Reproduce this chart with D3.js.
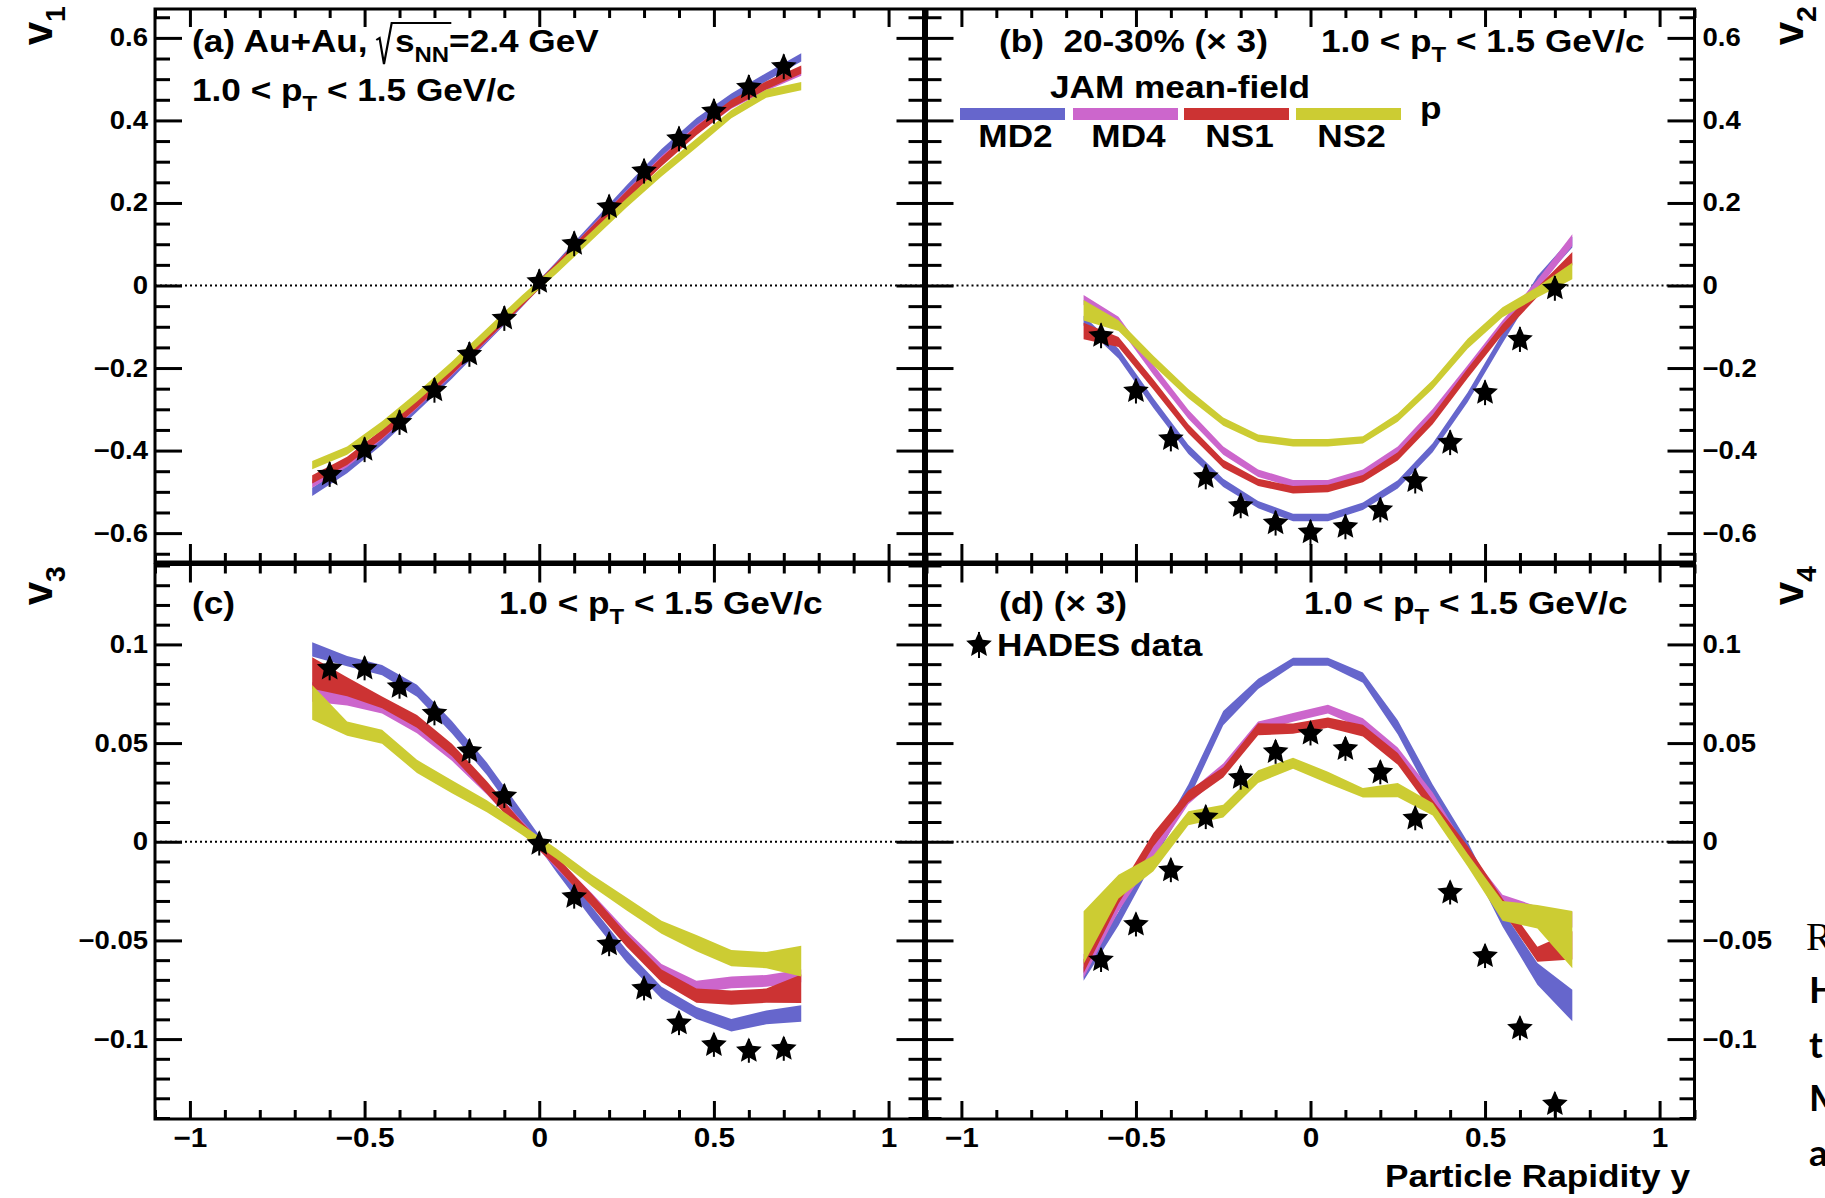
<!DOCTYPE html>
<html>
<head>
<meta charset="utf-8">
<script src="https://cdn.jsdelivr.net/npm/d3@7"></script>
<style>
  html, body { margin: 0; padding: 0; background: #fff; }
  svg { display: block; }
  text { white-space: pre; }
</style>
</head>
<body>
<svg id="chart" width="1825" height="1198"></svg>
<script>
// ---------- data ----------
const rapidityData  = [-0.6, -0.5, -0.4, -0.3, -0.2, -0.1, 0, 0.1, 0.2, 0.3, 0.4, 0.5, 0.6, 0.7];
const rapidityModel = [-0.65, -0.55, -0.45, -0.35, -0.25, -0.15, -0.05, 0.05, 0.15, 0.25, 0.35, 0.45, 0.55, 0.65, 0.75];

const modelNames  = ['MD2', 'MD4', 'NS1', 'NS2'];
const modelColors = ['#6666cc', '#cc66cc', '#cc3333', '#cccc33'];

// HADES data, 20-30%, 1.0 < pT < 1.5 GeV/c (v2, v4 scaled by 3)
const hadesV1 = [-0.458, -0.398, -0.332, -0.254, -0.167, -0.080, 0.009, 0.101, 0.190, 0.277, 0.355, 0.422, 0.480, 0.530];
const hadesV2 = [-0.122, -0.256, -0.372, -0.464, -0.534, -0.576, -0.598, -0.585, -0.544, -0.474, -0.381, -0.260, -0.131, -0.007];
const hadesV3 = [0.0878, 0.0878, 0.0785, 0.0650, 0.0459, 0.0231, -0.0010, -0.0279, -0.0520, -0.0744, -0.0920, -0.1030, -0.1060, -0.1050];
const hadesV4 = [-0.0600, -0.0420, -0.0145, 0.0124, 0.0324, 0.0455, 0.0548, 0.0470, 0.0351, 0.0118, -0.0258, -0.0580, -0.0946, -0.1330];
const hadesV12Err = [0.03, 0.03, 0.03, 0.03, 0.03, 0.03, 0.03, 0.03, 0.03, 0.03, 0.03, 0.03, 0.03, 0.03];
const hadesV34Err = [0.006, 0.006, 0.006, 0.006, 0.006, 0.006, 0.006, 0.006, 0.006, 0.006, 0.006, 0.006, 0.006, 0.006];

// JAM mean-field, v1 (centre, half-width)
const md2V1 = [-0.500, -0.445, -0.375, -0.295, -0.215, -0.128, -0.042, 0.048, 0.140, 0.232, 0.320, 0.395, 0.455, 0.505, 0.553];
const md4V1 = [-0.480, -0.430, -0.362, -0.287, -0.207, -0.124, -0.040, 0.045, 0.133, 0.220, 0.303, 0.378, 0.438, 0.482, 0.518];
const ns1V1 = [-0.470, -0.425, -0.360, -0.285, -0.205, -0.122, -0.040, 0.045, 0.132, 0.218, 0.300, 0.375, 0.440, 0.485, 0.523];
const ns2V1 = [-0.435, -0.400, -0.340, -0.270, -0.195, -0.115, -0.035, 0.040, 0.120, 0.200, 0.275, 0.345, 0.415, 0.465, 0.483];
const v1Width = [0.010, 0.010, 0.011, 0.011, 0.011, 0.011, 0.011, 0.011, 0.011, 0.011, 0.011, 0.011, 0.010, 0.010, 0.010];

// v2 (x3)
const md2V2 = [-0.085, -0.165, -0.285, -0.397, -0.478, -0.531, -0.562, -0.562, -0.535, -0.482, -0.393, -0.271, -0.128, 0.011, 0.105];
const md4V2 = [-0.035, -0.088, -0.204, -0.312, -0.400, -0.455, -0.480, -0.480, -0.455, -0.400, -0.310, -0.205, -0.097, 0.002, 0.110];
const ns1V2 = [-0.110, -0.137, -0.240, -0.347, -0.432, -0.477, -0.495, -0.492, -0.468, -0.414, -0.325, -0.213, -0.106, -0.016, 0.065];
const ns2V2 = [-0.060, -0.097, -0.182, -0.262, -0.330, -0.370, -0.381, -0.381, -0.374, -0.320, -0.240, -0.141, -0.065, -0.016, 0.035];
const md2V2w = [0.012, 0.012, 0.012, 0.011, 0.010, 0.009, 0.009, 0.009, 0.009, 0.010, 0.011, 0.012, 0.012, 0.012, 0.013];
const md4V2w = [0.012, 0.012, 0.012, 0.011, 0.010, 0.009, 0.009, 0.009, 0.009, 0.010, 0.011, 0.012, 0.012, 0.012, 0.014];
const ns1V2w = [0.020, 0.012, 0.012, 0.011, 0.010, 0.009, 0.009, 0.009, 0.009, 0.010, 0.011, 0.012, 0.012, 0.012, 0.016];
const ns2V2w = [0.025, 0.013, 0.012, 0.011, 0.010, 0.009, 0.009, 0.009, 0.009, 0.010, 0.011, 0.012, 0.012, 0.013, 0.020];

// v3
const md2V3 = [0.0975, 0.0915, 0.0870, 0.0765, 0.0580, 0.0370, 0.0124, -0.0124, -0.0360, -0.0580, -0.0765, -0.0868, -0.0930, -0.0890, -0.0870];
const md4V3 = [0.0760, 0.0720, 0.0680, 0.0580, 0.0440, 0.0270, 0.0080, -0.0110, -0.0290, -0.0480, -0.0650, -0.0735, -0.0713, -0.0705, -0.0680];
const ns1V3 = [0.0855, 0.0785, 0.0706, 0.0610, 0.0465, 0.0275, 0.0072, -0.0103, -0.0295, -0.0500, -0.0680, -0.0780, -0.0790, -0.0780, -0.0745];
const ns2V3 = [0.0706, 0.0573, 0.0532, 0.0382, 0.0279, 0.0180, 0.0062, -0.0062, -0.0196, -0.0315, -0.0433, -0.0514, -0.0590, -0.0600, -0.0605];
const md2V3w = [0.0036, 0.0026, 0.0026, 0.0030, 0.0032, 0.0032, 0.0032, 0.0032, 0.0032, 0.0032, 0.0030, 0.0030, 0.0032, 0.0035, 0.0042];
const md4V3w = [0.0050, 0.0030, 0.0030, 0.0030, 0.0030, 0.0030, 0.0028, 0.0028, 0.0030, 0.0030, 0.0030, 0.0030, 0.0030, 0.0030, 0.0032];
const ns1V3w = [0.0080, 0.0048, 0.0030, 0.0032, 0.0032, 0.0032, 0.0028, 0.0028, 0.0032, 0.0032, 0.0032, 0.0036, 0.0036, 0.0036, 0.0072];
const ns2V3w = [0.0088, 0.0036, 0.0036, 0.0033, 0.0033, 0.0030, 0.0026, 0.0026, 0.0030, 0.0033, 0.0033, 0.0041, 0.0041, 0.0041, 0.0078];

// v4 (x3)
const md2V4 = [-0.0670, -0.0390, -0.0060, 0.0250, 0.0626, 0.0800, 0.0912, 0.0912, 0.0832, 0.0580, 0.0250, -0.0040, -0.0390, -0.0670, -0.0830];
const md4V4 = [-0.0630, -0.0320, -0.0050, 0.0220, 0.0370, 0.0585, 0.0630, 0.0672, 0.0600, 0.0448, 0.0217, -0.0072, -0.0300, -0.0360, -0.0395];
const ns1V4 = [-0.0630, -0.0280, 0.0010, 0.0230, 0.0351, 0.0570, 0.0573, 0.0604, 0.0563, 0.0420, 0.0180, -0.0052, -0.0320, -0.0570, -0.0525];
const ns2V4 = [-0.0486, -0.0227, -0.0110, 0.0119, 0.0155, 0.0330, 0.0398, 0.0325, 0.0248, 0.0262, 0.0165, -0.0093, -0.0350, -0.0380, -0.0496];
const md2V4w = [0.0035, 0.0035, 0.0038, 0.0040, 0.0036, 0.0026, 0.0020, 0.0020, 0.0026, 0.0036, 0.0040, 0.0040, 0.0040, 0.0055, 0.0080];
const md4V4w = [0.0060, 0.0034, 0.0030, 0.0030, 0.0026, 0.0024, 0.0022, 0.0022, 0.0026, 0.0030, 0.0032, 0.0030, 0.0032, 0.0032, 0.0040];
const ns1V4w = [0.0035, 0.0034, 0.0034, 0.0030, 0.0026, 0.0030, 0.0026, 0.0026, 0.0030, 0.0030, 0.0030, 0.0032, 0.0032, 0.0038, 0.0072];
const ns2V4w = [0.0134, 0.0060, 0.0040, 0.0036, 0.0032, 0.0032, 0.0028, 0.0030, 0.0024, 0.0036, 0.0032, 0.0032, 0.0050, 0.0060, 0.0145];

// axis ticks and labels
const xTickValues = [-1, -0.5, 0, 0.5, 1];
const xTickLabels = ['\u22121', '\u22120.5', '0', '0.5', '1'];
const v12TickValues = [0.6, 0.4, 0.2, 0, -0.2, -0.4, -0.6];
const v12TickLabels = ['0.6', '0.4', '0.2', '0', '\u22120.2', '\u22120.4', '\u22120.6'];
const v34TickValues = [0.1, 0.05, 0, -0.05, -0.1];
const v34TickLabels = ['0.1', '0.05', '0', '\u22120.05', '\u22120.1'];

// ---------- drawing ----------
const W = 1825, H = 1198;
const FONT = "'Liberation Sans', Arial, Helvetica, sans-serif";
const SX = 1.1; // glyphs are drawn slightly wide

const svg = d3.select('#chart');
svg.append('rect').attr('width', W).attr('height', H).attr('fill', '#fff');

function stretchText(sel) {
  sel.each(function () {
    const t = d3.select(this);
    const tx = +t.attr('x') || 0, ty = +t.attr('y') || 0;
    t.attr('transform', `translate(${tx},${ty}) scale(${SX},1) translate(${-tx},${-ty})`);
  });
}

// text with sub/superscript parts; returns {g, text}
function richText(parent, x, y, parts, size, opts = {}) {
  const g = parent.append('g')
    .attr('transform', `translate(${x},${y})` + (opts.rotate ? ` rotate(${opts.rotate})` : '') + ` scale(${opts.sx || SX},1)`);
  const t = g.append('text')
    .attr('font-family', opts.family || FONT)
    .attr('font-weight', opts.weight || 'bold')
    .attr('font-size', size)
    .attr('text-anchor', opts.anchor || 'start')
    .attr('fill', '#000');
  let shift = 0;
  parts.forEach(p => {
    const s = typeof p === 'string' ? { t: p } : p;
    const target = s.sub ? size * 0.32 : s.sup ? -size * 0.4 : 0;
    const ts = t.append('tspan').text(s.t).attr('dy', target - shift);
    if (s.dx) ts.attr('dx', s.dx);
    if (s.sub || s.sup) ts.attr('font-size', size * (s.scale || 0.68));
    shift = target;
  });
  return { g, t };
}

function starPath(R, ratio) {
  const r = R * ratio;
  let p = '';
  for (let i = 0; i < 10; i++) {
    const a = -Math.PI / 2 + i * Math.PI / 5;
    const rr = i % 2 ? r : R;
    p += (i ? 'L' : 'M') + (rr * Math.cos(a)).toFixed(2) + ',' + (rr * Math.sin(a)).toFixed(2);
  }
  return p + 'Z';
}
const STAR = starPath(13.5, 0.47);

const xMinor = d3.range(-11, 12).filter(i => i % 5 !== 0).map(i => i / 10);
const v12Minor = d3.range(-13, 14).filter(i => i % 4 !== 0).map(i => i * 0.05);
const v34Minor = d3.range(-14, 15).filter(i => i % 5 !== 0).map(i => i * 0.01);

const panels = [
  { xr: [155, 923.5], yr: [562, 9], ydom: [-0.67, 0.67], yt: v12TickValues, yl: v12TickLabels, ym: v12Minor, side: 'left', xLab: false,
    data: hadesV1, err: hadesV12Err,
    models: [[md2V1, v1Width], [md4V1, v1Width], [ns1V1, v1Width], [ns2V1, v1Width]] },
  { xr: [926.5, 1694.5], yr: [562, 9], ydom: [-0.67, 0.67], yt: v12TickValues, yl: v12TickLabels, ym: v12Minor, side: 'right', xLab: false,
    data: hadesV2, err: hadesV12Err,
    models: [[md2V2, md2V2w], [md4V2, md4V2w], [ns1V2, ns1V2w], [ns2V2, ns2V2w]] },
  { xr: [155, 923.5], yr: [1119, 564.5], ydom: [-0.1405, 0.1405], yt: v34TickValues, yl: v34TickLabels, ym: v34Minor, side: 'left', xLab: true,
    data: hadesV3, err: hadesV34Err,
    models: [[md2V3, md2V3w], [md4V3, md4V3w], [ns1V3, ns1V3w], [ns2V3, ns2V3w]] },
  { xr: [926.5, 1694.5], yr: [1119, 564.5], ydom: [-0.1405, 0.1405], yt: v34TickValues, yl: v34TickLabels, ym: v34Minor, side: 'right', xLab: true,
    data: hadesV4, err: hadesV34Err,
    models: [[md2V4, md2V4w], [md4V4, md4V4w], [ns1V4, ns1V4w], [ns2V4, ns2V4w]] }
];

function styleAxis(g, labelSize) {
  g.select('.domain').remove();
  g.selectAll('.tick line').attr('stroke', '#000').attr('stroke-width', 3);
  g.selectAll('.tick text').attr('font-family', FONT).attr('font-weight', 'bold')
    .attr('font-size', labelSize).attr('fill', '#000');
  g.attr('font-family', null).attr('font-size', null);
  stretchText(g.selectAll('.tick text'));
}

panels.forEach(p => {
  const x = d3.scaleLinear().domain([-1.1, 1.1]).range(p.xr);
  const y = d3.scaleLinear().domain(p.ydom).range(p.yr);
  const g = svg.append('g');

  // zero line
  g.append('line').attr('x1', p.xr[0]).attr('x2', p.xr[1]).attr('y1', y(0)).attr('y2', y(0))
    .attr('stroke', '#000').attr('stroke-width', 2).attr('stroke-dasharray', '2,3');

  // model bands
  p.models.forEach((m, k) => {
    const pts = rapidityModel.map((r, i) => ({ r, c: m[0][i], w: m[1][i] }));
    g.append('path').datum(pts)
      .attr('fill', modelColors[k])
      .attr('d', d3.area().x(d => x(d.r)).y0(d => y(d.c - d.w)).y1(d => y(d.c + d.w)));
  });

  // data
  const pts = rapidityData.map((r, i) => ({ r, v: p.data[i], e: p.err[i] }));
  g.selectAll('line.err').data(pts).join('line').attr('class', 'err')
    .attr('x1', d => x(d.r)).attr('x2', d => x(d.r))
    .attr('y1', d => y(d.v - d.e)).attr('y2', d => y(d.v + d.e))
    .attr('stroke', '#000').attr('stroke-width', 2);
  g.selectAll('path.star').data(pts).join('path').attr('class', 'star')
    .attr('transform', d => `translate(${x(d.r)},${y(d.v)})`)
    .attr('d', STAR).attr('fill', '#000');

  // axes on all four sides, ticks pointing inwards
  const bottom = g.append('g').attr('transform', `translate(0,${p.yr[0]})`)
    .call(d3.axisBottom(x).tickValues(xTickValues).tickSizeInner(-18).tickSizeOuter(0).tickPadding(9)
      .tickFormat((d, i) => p.xLab ? xTickLabels[i] : ''));
  styleAxis(bottom, 27);
  styleAxis(g.append('g').attr('transform', `translate(0,${p.yr[0]})`)
    .call(d3.axisBottom(x).tickValues(xMinor).tickSizeInner(-9).tickSizeOuter(0).tickFormat('')), 27);
  styleAxis(g.append('g').attr('transform', `translate(0,${p.yr[1]})`)
    .call(d3.axisTop(x).tickValues(xTickValues).tickSizeInner(-18).tickSizeOuter(0).tickFormat('')), 27);
  styleAxis(g.append('g').attr('transform', `translate(0,${p.yr[1]})`)
    .call(d3.axisTop(x).tickValues(xMinor).tickSizeInner(-9).tickSizeOuter(0).tickFormat('')), 27);

  styleAxis(g.append('g').attr('transform', `translate(${p.xr[0]},0)`)
    .call(d3.axisLeft(y).tickValues(p.yt).tickSizeInner(-27).tickSizeOuter(0).tickPadding(7)
      .tickFormat((d, i) => p.side === 'left' ? p.yl[i] : '')), 25);
  styleAxis(g.append('g').attr('transform', `translate(${p.xr[0]},0)`)
    .call(d3.axisLeft(y).tickValues(p.ym).tickSizeInner(-15).tickSizeOuter(0).tickFormat('')), 25);
  styleAxis(g.append('g').attr('transform', `translate(${p.xr[1]},0)`)
    .call(d3.axisRight(y).tickValues(p.yt).tickSizeInner(-27).tickSizeOuter(0).tickPadding(8)
      .tickFormat((d, i) => p.side === 'right' ? p.yl[i] : '')), 25);
  styleAxis(g.append('g').attr('transform', `translate(${p.xr[1]},0)`)
    .call(d3.axisRight(y).tickValues(p.ym).tickSizeInner(-15).tickSizeOuter(0).tickFormat('')), 25);

  // frame
  g.append('rect').attr('x', p.xr[0]).attr('y', p.yr[1])
    .attr('width', p.xr[1] - p.xr[0]).attr('height', p.yr[0] - p.yr[1])
    .attr('fill', 'none').attr('stroke', '#000').attr('stroke-width', 3);
});

// ---------- annotations ----------
const TS = 32;
const pT = ['1.0 < p', { t: 'T', sub: true }, ' < 1.5 GeV/c'];

// (a) title with square root
{
  const a = richText(svg, 192, 52, ['(a) Au+Au, ', { t: 's', dx: 16 }, { t: 'NN', sub: true }, '=2.4 GeV'], TS);
  const n = a.t.node();
  const s0 = n.getStartPositionOfChar(11).x;
  const s1 = n.getEndPositionOfChar(13).x;
  a.g.append('path')
    .attr('d', `M${s0 - 17},-12 L${s0 - 14},-14 L${s0 - 10},12 L${s0 - 3},-29 L${s1 + 2},-29`)
    .attr('fill', 'none').attr('stroke', '#000').attr('stroke-width', 2);
}
richText(svg, 192, 101, pT, TS);
richText(svg, 999, 52, ['(b)  20-30% (\u00d7 3)'], TS);
richText(svg, 1321, 52, pT, TS);
richText(svg, 192, 614, ['(c)'], TS);
richText(svg, 499, 614, pT, TS);
richText(svg, 999, 614, ['(d) (\u00d7 3)'], TS);
richText(svg, 1304, 614, pT, TS);

// legend
{
  const lx = [960, 1073, 1184, 1296], lw = 105;
  richText(svg, 1050, 98, ['JAM mean-field'], TS);
  modelNames.forEach((name, i) => {
    svg.append('rect').attr('x', lx[i]).attr('y', 108).attr('width', lw).attr('height', 12).attr('fill', modelColors[i]);
    richText(svg, lx[i] + lw / 2 + 3, 147, [name], TS, { anchor: 'middle' });
  });
  richText(svg, 1420, 119, ['p'], TS);

  // data marker entry
  svg.append('line').attr('x1', 979).attr('x2', 979).attr('y1', 632).attr('y2', 658).attr('stroke', '#000').attr('stroke-width', 2);
  svg.append('path').attr('transform', 'translate(979,645)').attr('d', STAR).attr('fill', '#000');
  richText(svg, 997, 656, ['HADES data'], TS);
}

// axis titles
richText(svg, 52, 6, ['v', { t: '1', sub: true }], 42, { rotate: -90, anchor: 'end', sx: 1 });
richText(svg, 52, 566, ['v', { t: '3', sub: true }], 42, { rotate: -90, anchor: 'end', sx: 1 });
richText(svg, 1803, 6, ['v', { t: '2', sub: true }], 42, { rotate: -90, anchor: 'end', sx: 1 });
richText(svg, 1803, 566, ['v', { t: '4', sub: true }], 42, { rotate: -90, anchor: 'end', sx: 1 });
richText(svg, 1690, 1187, ['Particle Rapidity y'], TS, { anchor: 'end' });

// text continuing past the right edge
const SIDE = "Lato, 'Open Sans', sans-serif";
richText(svg, 1806, 950, ['R'], 40, { family: "'Liberation Serif', serif", weight: 'normal', sx: 1 });
[['H', 1003], ['t', 1058], ['M', 1111], ['a', 1166]].forEach(([c, yy]) =>
  richText(svg, 1809, yy, [c], 37, { family: SIDE, weight: 'bold', sx: 1 }));
</script>
</body>
</html>
